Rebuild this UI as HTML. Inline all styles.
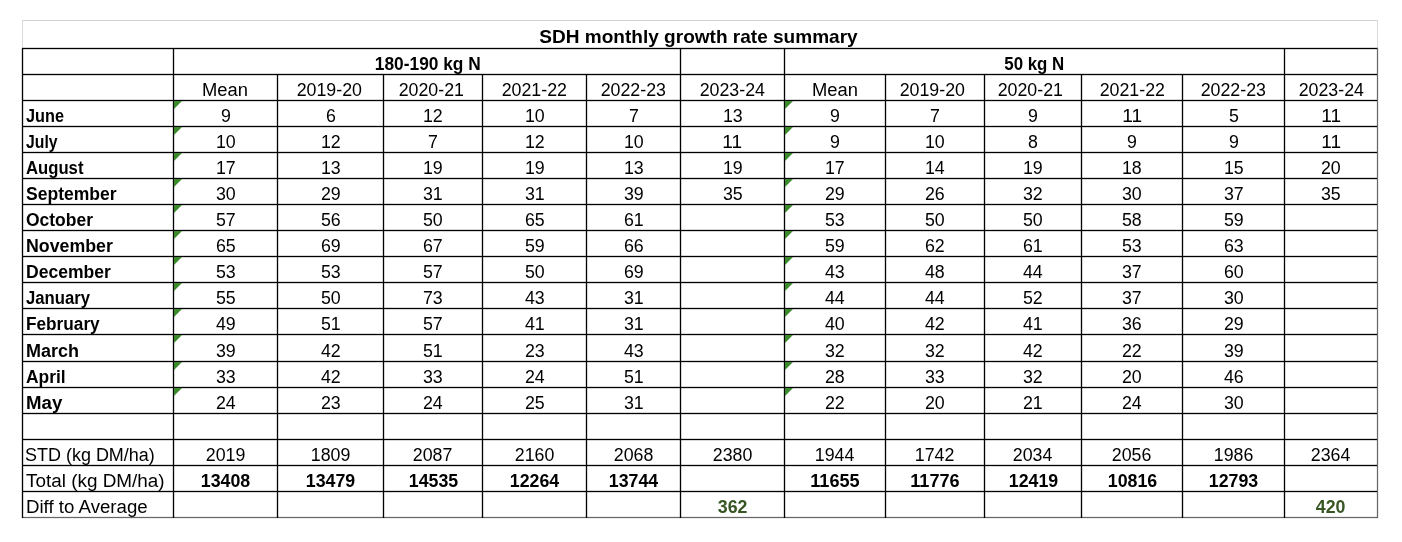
<!DOCTYPE html>
<html><head><meta charset="utf-8"><style>
html,body{margin:0;padding:0;background:#fff;}
body{width:1402px;height:542px;position:relative;overflow:hidden;font-family:"Liberation Sans",Arial,sans-serif;color:#000;}
.h{position:absolute;height:1px;background:#000;box-shadow:0 1px 0 rgba(0,0,0,.16),0 -1px 0 rgba(0,0,0,.16);}
.v{position:absolute;width:1px;background:#000;box-shadow:1px 0 0 rgba(0,0,0,.16),-1px 0 0 rgba(0,0,0,.16);}
.g{background:#d0d0d0;box-shadow:none;}
.t{position:absolute;white-space:nowrap;height:22px;line-height:22px;}
.t span{display:inline-block;}
.c{text-align:center;}
.c span{transform-origin:50% 50%;}
.l span{transform-origin:0 50%;}
.tri{position:absolute;width:0;height:0;border-top:8px solid #3b8a2b;border-right:8px solid transparent;}
</style></head><body>

<div class="h g" style="left:22px;top:20px;width:1356px"></div>
<div class="v g" style="left:22px;top:20px;height:28px;background:#dadada"></div>
<div class="v g" style="left:1377px;top:20px;height:28px;background:#dadada"></div>
<div class="h" style="left:22px;top:48px;width:1356px;"></div>
<div class="h" style="left:22px;top:74px;width:1356px;"></div>
<div class="h" style="left:22px;top:100px;width:1356px;"></div>
<div class="h" style="left:22px;top:126px;width:1356px;"></div>
<div class="h" style="left:22px;top:152px;width:1356px;"></div>
<div class="h" style="left:22px;top:178px;width:1356px;"></div>
<div class="h" style="left:22px;top:204px;width:1356px;"></div>
<div class="h" style="left:22px;top:230px;width:1356px;"></div>
<div class="h" style="left:22px;top:256px;width:1356px;"></div>
<div class="h" style="left:22px;top:282px;width:1356px;"></div>
<div class="h" style="left:22px;top:308px;width:1356px;"></div>
<div class="h" style="left:22px;top:334px;width:1356px;"></div>
<div class="h" style="left:22px;top:361px;width:1356px;"></div>
<div class="h" style="left:22px;top:387px;width:1356px;"></div>
<div class="h" style="left:22px;top:413px;width:1356px;"></div>
<div class="h" style="left:22px;top:439px;width:1356px;"></div>
<div class="h" style="left:22px;top:465px;width:1356px;"></div>
<div class="h" style="left:22px;top:491px;width:1356px;"></div>
<div class="h" style="left:22px;top:517px;width:1356px;background:#666;box-shadow:0 1px 0 rgba(0,0,0,.07),0 -1px 0 rgba(0,0,0,.07);"></div>
<div class="v" style="left:22px;top:48px;height:470px;"></div>
<div class="v" style="left:173px;top:48px;height:470px;"></div>
<div class="v" style="left:277px;top:74px;height:444px;"></div>
<div class="v" style="left:383px;top:74px;height:444px;"></div>
<div class="v" style="left:482px;top:74px;height:444px;"></div>
<div class="v" style="left:586px;top:74px;height:444px;"></div>
<div class="v" style="left:680px;top:48px;height:470px;"></div>
<div class="v" style="left:784px;top:48px;height:470px;"></div>
<div class="v" style="left:885px;top:74px;height:444px;"></div>
<div class="v" style="left:984px;top:74px;height:444px;"></div>
<div class="v" style="left:1081px;top:74px;height:444px;"></div>
<div class="v" style="left:1182px;top:74px;height:444px;"></div>
<div class="v" style="left:1284px;top:48px;height:470px;"></div>
<div class="v" style="left:1377px;top:48px;height:470px;background:#666;box-shadow:1px 0 0 rgba(0,0,0,.07),-1px 0 0 rgba(0,0,0,.07);"></div>
<div class="tri" style="left:174px;top:101px"></div>
<div class="tri" style="left:785px;top:101px"></div>
<div class="tri" style="left:174px;top:127px"></div>
<div class="tri" style="left:785px;top:127px"></div>
<div class="tri" style="left:174px;top:153px"></div>
<div class="tri" style="left:785px;top:153px"></div>
<div class="tri" style="left:174px;top:179px"></div>
<div class="tri" style="left:785px;top:179px"></div>
<div class="tri" style="left:174px;top:205px"></div>
<div class="tri" style="left:785px;top:205px"></div>
<div class="tri" style="left:174px;top:231px"></div>
<div class="tri" style="left:785px;top:231px"></div>
<div class="tri" style="left:174px;top:257px"></div>
<div class="tri" style="left:785px;top:257px"></div>
<div class="tri" style="left:174px;top:283px"></div>
<div class="tri" style="left:785px;top:283px"></div>
<div class="tri" style="left:174px;top:309px"></div>
<div class="tri" style="left:785px;top:309px"></div>
<div class="tri" style="left:174px;top:335px"></div>
<div class="tri" style="left:785px;top:335px"></div>
<div class="tri" style="left:174px;top:362px"></div>
<div class="tri" style="left:785px;top:362px"></div>
<div class="tri" style="left:174px;top:388px"></div>
<div class="tri" style="left:785px;top:388px"></div>
<div class="t c" style="top:26.06px;font-size:18.6px;font-weight:bold;left:21px;width:1354px;"><span style="transform:scaleX(1.0238)">SDH monthly growth rate summary</span></div>
<div class="t c" style="top:52.90px;font-size:17.6px;font-weight:bold;left:174.7px;width:506.00000000000006px;"><span style="transform:scaleX(0.9839)">180-190 kg N</span></div>
<div class="t c" style="top:52.90px;font-size:17.6px;font-weight:bold;left:785px;width:499px;"><span style="transform:scaleX(0.9593)">50 kg N</span></div>
<div class="t c" style="top:78.90px;font-size:17.6px;left:174px;width:103px;"><span style="transform:scaleX(1.0444)">Mean</span></div>
<div class="t c" style="top:78.90px;font-size:17.6px;left:276.5px;width:105.0px;"><span style="transform:scaleX(1.0109)">2019-20</span></div>
<div class="t c" style="top:78.90px;font-size:17.6px;left:382.0px;width:98.0px;"><span style="transform:scaleX(1.0109)">2020-21</span></div>
<div class="t c" style="top:78.90px;font-size:17.6px;left:483px;width:103px;"><span style="transform:scaleX(1.0109)">2021-22</span></div>
<div class="t c" style="top:78.90px;font-size:17.6px;left:587px;width:93px;"><span style="transform:scaleX(1.0109)">2022-23</span></div>
<div class="t c" style="top:78.90px;font-size:17.6px;left:681px;width:103px;"><span style="transform:scaleX(1.0109)">2023-24</span></div>
<div class="t c" style="top:78.90px;font-size:17.6px;left:785px;width:100px;"><span style="transform:scaleX(1.0444)">Mean</span></div>
<div class="t c" style="top:78.90px;font-size:17.6px;left:883.7px;width:98.0px;"><span style="transform:scaleX(1.0109)">2019-20</span></div>
<div class="t c" style="top:78.90px;font-size:17.6px;left:982.4px;width:96.00000000000011px;"><span style="transform:scaleX(1.0109)">2020-21</span></div>
<div class="t c" style="top:78.90px;font-size:17.6px;left:1082px;width:100px;"><span style="transform:scaleX(1.0109)">2021-22</span></div>
<div class="t c" style="top:78.90px;font-size:17.6px;left:1183px;width:101px;"><span style="transform:scaleX(1.0109)">2022-23</span></div>
<div class="t c" style="top:78.90px;font-size:17.6px;left:1285px;width:92px;"><span style="transform:scaleX(1.0109)">2023-24</span></div>
<div class="t l" style="top:104.90px;font-size:17.6px;font-weight:bold;left:26.0px;"><span style="transform:scaleX(0.9238)">June</span></div>
<div class="t c" style="top:104.90px;font-size:17.6px;left:174px;width:103px;"><span style="transform:scaleX(1.0096)">9</span></div>
<div class="t c" style="top:104.90px;font-size:17.6px;left:278px;width:105px;"><span style="transform:scaleX(1.0096)">6</span></div>
<div class="t c" style="top:104.90px;font-size:17.6px;left:384px;width:98px;"><span style="transform:scaleX(1.0104)">12</span></div>
<div class="t c" style="top:104.90px;font-size:17.6px;left:483px;width:103px;"><span style="transform:scaleX(1.0104)">10</span></div>
<div class="t c" style="top:104.90px;font-size:17.6px;left:587px;width:93px;"><span style="transform:scaleX(1.0096)">7</span></div>
<div class="t c" style="top:104.90px;font-size:17.6px;left:681px;width:103px;"><span style="transform:scaleX(1.0104)">13</span></div>
<div class="t c" style="top:104.90px;font-size:17.6px;left:785px;width:100px;"><span style="transform:scaleX(1.0096)">9</span></div>
<div class="t c" style="top:104.90px;font-size:17.6px;left:886px;width:98px;"><span style="transform:scaleX(1.0096)">7</span></div>
<div class="t c" style="top:104.90px;font-size:17.6px;left:985px;width:96px;"><span style="transform:scaleX(1.0096)">9</span></div>
<div class="t c" style="top:104.90px;font-size:17.6px;left:1082px;width:100px;"><span style="transform:scaleX(1.0830)">11</span></div>
<div class="t c" style="top:104.90px;font-size:17.6px;left:1183px;width:101px;"><span style="transform:scaleX(1.0096)">5</span></div>
<div class="t c" style="top:104.90px;font-size:17.6px;left:1285px;width:92px;"><span style="transform:scaleX(1.0830)">11</span></div>
<div class="t l" style="top:130.90px;font-size:17.6px;font-weight:bold;left:26.0px;"><span style="transform:scaleX(0.8965)">July</span></div>
<div class="t c" style="top:130.90px;font-size:17.6px;left:174px;width:103px;"><span style="transform:scaleX(1.0104)">10</span></div>
<div class="t c" style="top:130.90px;font-size:17.6px;left:278px;width:105px;"><span style="transform:scaleX(1.0104)">12</span></div>
<div class="t c" style="top:130.90px;font-size:17.6px;left:384px;width:98px;"><span style="transform:scaleX(1.0096)">7</span></div>
<div class="t c" style="top:130.90px;font-size:17.6px;left:483px;width:103px;"><span style="transform:scaleX(1.0104)">12</span></div>
<div class="t c" style="top:130.90px;font-size:17.6px;left:587px;width:93px;"><span style="transform:scaleX(1.0104)">10</span></div>
<div class="t c" style="top:130.90px;font-size:17.6px;left:681px;width:103px;"><span style="transform:scaleX(1.0830)">11</span></div>
<div class="t c" style="top:130.90px;font-size:17.6px;left:785px;width:100px;"><span style="transform:scaleX(1.0096)">9</span></div>
<div class="t c" style="top:130.90px;font-size:17.6px;left:886px;width:98px;"><span style="transform:scaleX(1.0104)">10</span></div>
<div class="t c" style="top:130.90px;font-size:17.6px;left:985px;width:96px;"><span style="transform:scaleX(1.0096)">8</span></div>
<div class="t c" style="top:130.90px;font-size:17.6px;left:1082px;width:100px;"><span style="transform:scaleX(1.0096)">9</span></div>
<div class="t c" style="top:130.90px;font-size:17.6px;left:1183px;width:101px;"><span style="transform:scaleX(1.0096)">9</span></div>
<div class="t c" style="top:130.90px;font-size:17.6px;left:1285px;width:92px;"><span style="transform:scaleX(1.0830)">11</span></div>
<div class="t l" style="top:156.90px;font-size:17.6px;font-weight:bold;left:26.0px;"><span style="transform:scaleX(0.9479)">August</span></div>
<div class="t c" style="top:156.90px;font-size:17.6px;left:174px;width:103px;"><span style="transform:scaleX(1.0104)">17</span></div>
<div class="t c" style="top:156.90px;font-size:17.6px;left:278px;width:105px;"><span style="transform:scaleX(1.0104)">13</span></div>
<div class="t c" style="top:156.90px;font-size:17.6px;left:384px;width:98px;"><span style="transform:scaleX(1.0104)">19</span></div>
<div class="t c" style="top:156.90px;font-size:17.6px;left:483px;width:103px;"><span style="transform:scaleX(1.0104)">19</span></div>
<div class="t c" style="top:156.90px;font-size:17.6px;left:587px;width:93px;"><span style="transform:scaleX(1.0104)">13</span></div>
<div class="t c" style="top:156.90px;font-size:17.6px;left:681px;width:103px;"><span style="transform:scaleX(1.0104)">19</span></div>
<div class="t c" style="top:156.90px;font-size:17.6px;left:785px;width:100px;"><span style="transform:scaleX(1.0104)">17</span></div>
<div class="t c" style="top:156.90px;font-size:17.6px;left:886px;width:98px;"><span style="transform:scaleX(1.0104)">14</span></div>
<div class="t c" style="top:156.90px;font-size:17.6px;left:985px;width:96px;"><span style="transform:scaleX(1.0104)">19</span></div>
<div class="t c" style="top:156.90px;font-size:17.6px;left:1082px;width:100px;"><span style="transform:scaleX(1.0104)">18</span></div>
<div class="t c" style="top:156.90px;font-size:17.6px;left:1183px;width:101px;"><span style="transform:scaleX(1.0104)">15</span></div>
<div class="t c" style="top:156.90px;font-size:17.6px;left:1285px;width:92px;"><span style="transform:scaleX(1.0104)">20</span></div>
<div class="t l" style="top:182.90px;font-size:17.6px;font-weight:bold;left:26.0px;"><span style="transform:scaleX(0.9965)">September</span></div>
<div class="t c" style="top:182.90px;font-size:17.6px;left:174px;width:103px;"><span style="transform:scaleX(1.0104)">30</span></div>
<div class="t c" style="top:182.90px;font-size:17.6px;left:278px;width:105px;"><span style="transform:scaleX(1.0104)">29</span></div>
<div class="t c" style="top:182.90px;font-size:17.6px;left:384px;width:98px;"><span style="transform:scaleX(1.0104)">31</span></div>
<div class="t c" style="top:182.90px;font-size:17.6px;left:483px;width:103px;"><span style="transform:scaleX(1.0104)">31</span></div>
<div class="t c" style="top:182.90px;font-size:17.6px;left:587px;width:93px;"><span style="transform:scaleX(1.0104)">39</span></div>
<div class="t c" style="top:182.90px;font-size:17.6px;left:681px;width:103px;"><span style="transform:scaleX(1.0104)">35</span></div>
<div class="t c" style="top:182.90px;font-size:17.6px;left:785px;width:100px;"><span style="transform:scaleX(1.0104)">29</span></div>
<div class="t c" style="top:182.90px;font-size:17.6px;left:886px;width:98px;"><span style="transform:scaleX(1.0104)">26</span></div>
<div class="t c" style="top:182.90px;font-size:17.6px;left:985px;width:96px;"><span style="transform:scaleX(1.0104)">32</span></div>
<div class="t c" style="top:182.90px;font-size:17.6px;left:1082px;width:100px;"><span style="transform:scaleX(1.0104)">30</span></div>
<div class="t c" style="top:182.90px;font-size:17.6px;left:1183px;width:101px;"><span style="transform:scaleX(1.0104)">37</span></div>
<div class="t c" style="top:182.90px;font-size:17.6px;left:1285px;width:92px;"><span style="transform:scaleX(1.0104)">35</span></div>
<div class="t l" style="top:208.90px;font-size:17.6px;font-weight:bold;left:26.0px;"><span style="transform:scaleX(0.9921)">October</span></div>
<div class="t c" style="top:208.90px;font-size:17.6px;left:174px;width:103px;"><span style="transform:scaleX(1.0104)">57</span></div>
<div class="t c" style="top:208.90px;font-size:17.6px;left:278px;width:105px;"><span style="transform:scaleX(1.0104)">56</span></div>
<div class="t c" style="top:208.90px;font-size:17.6px;left:384px;width:98px;"><span style="transform:scaleX(1.0104)">50</span></div>
<div class="t c" style="top:208.90px;font-size:17.6px;left:483px;width:103px;"><span style="transform:scaleX(1.0104)">65</span></div>
<div class="t c" style="top:208.90px;font-size:17.6px;left:587px;width:93px;"><span style="transform:scaleX(1.0104)">61</span></div>
<div class="t c" style="top:208.90px;font-size:17.6px;left:785px;width:100px;"><span style="transform:scaleX(1.0104)">53</span></div>
<div class="t c" style="top:208.90px;font-size:17.6px;left:886px;width:98px;"><span style="transform:scaleX(1.0104)">50</span></div>
<div class="t c" style="top:208.90px;font-size:17.6px;left:985px;width:96px;"><span style="transform:scaleX(1.0104)">50</span></div>
<div class="t c" style="top:208.90px;font-size:17.6px;left:1082px;width:100px;"><span style="transform:scaleX(1.0104)">58</span></div>
<div class="t c" style="top:208.90px;font-size:17.6px;left:1183px;width:101px;"><span style="transform:scaleX(1.0104)">59</span></div>
<div class="t l" style="top:234.90px;font-size:17.6px;font-weight:bold;left:26.0px;"><span style="transform:scaleX(1.0102)">November</span></div>
<div class="t c" style="top:234.90px;font-size:17.6px;left:174px;width:103px;"><span style="transform:scaleX(1.0104)">65</span></div>
<div class="t c" style="top:234.90px;font-size:17.6px;left:278px;width:105px;"><span style="transform:scaleX(1.0104)">69</span></div>
<div class="t c" style="top:234.90px;font-size:17.6px;left:384px;width:98px;"><span style="transform:scaleX(1.0104)">67</span></div>
<div class="t c" style="top:234.90px;font-size:17.6px;left:483px;width:103px;"><span style="transform:scaleX(1.0104)">59</span></div>
<div class="t c" style="top:234.90px;font-size:17.6px;left:587px;width:93px;"><span style="transform:scaleX(1.0104)">66</span></div>
<div class="t c" style="top:234.90px;font-size:17.6px;left:785px;width:100px;"><span style="transform:scaleX(1.0104)">59</span></div>
<div class="t c" style="top:234.90px;font-size:17.6px;left:886px;width:98px;"><span style="transform:scaleX(1.0104)">62</span></div>
<div class="t c" style="top:234.90px;font-size:17.6px;left:985px;width:96px;"><span style="transform:scaleX(1.0104)">61</span></div>
<div class="t c" style="top:234.90px;font-size:17.6px;left:1082px;width:100px;"><span style="transform:scaleX(1.0104)">53</span></div>
<div class="t c" style="top:234.90px;font-size:17.6px;left:1183px;width:101px;"><span style="transform:scaleX(1.0104)">63</span></div>
<div class="t l" style="top:260.90px;font-size:17.6px;font-weight:bold;left:26.0px;"><span style="transform:scaleX(0.9970)">December</span></div>
<div class="t c" style="top:260.90px;font-size:17.6px;left:174px;width:103px;"><span style="transform:scaleX(1.0104)">53</span></div>
<div class="t c" style="top:260.90px;font-size:17.6px;left:278px;width:105px;"><span style="transform:scaleX(1.0104)">53</span></div>
<div class="t c" style="top:260.90px;font-size:17.6px;left:384px;width:98px;"><span style="transform:scaleX(1.0104)">57</span></div>
<div class="t c" style="top:260.90px;font-size:17.6px;left:483px;width:103px;"><span style="transform:scaleX(1.0104)">50</span></div>
<div class="t c" style="top:260.90px;font-size:17.6px;left:587px;width:93px;"><span style="transform:scaleX(1.0104)">69</span></div>
<div class="t c" style="top:260.90px;font-size:17.6px;left:785px;width:100px;"><span style="transform:scaleX(1.0104)">43</span></div>
<div class="t c" style="top:260.90px;font-size:17.6px;left:886px;width:98px;"><span style="transform:scaleX(1.0104)">48</span></div>
<div class="t c" style="top:260.90px;font-size:17.6px;left:985px;width:96px;"><span style="transform:scaleX(1.0104)">44</span></div>
<div class="t c" style="top:260.90px;font-size:17.6px;left:1082px;width:100px;"><span style="transform:scaleX(1.0104)">37</span></div>
<div class="t c" style="top:260.90px;font-size:17.6px;left:1183px;width:101px;"><span style="transform:scaleX(1.0104)">60</span></div>
<div class="t l" style="top:286.90px;font-size:17.6px;font-weight:bold;left:26.0px;"><span style="transform:scaleX(0.9506)">January</span></div>
<div class="t c" style="top:286.90px;font-size:17.6px;left:174px;width:103px;"><span style="transform:scaleX(1.0104)">55</span></div>
<div class="t c" style="top:286.90px;font-size:17.6px;left:278px;width:105px;"><span style="transform:scaleX(1.0104)">50</span></div>
<div class="t c" style="top:286.90px;font-size:17.6px;left:384px;width:98px;"><span style="transform:scaleX(1.0104)">73</span></div>
<div class="t c" style="top:286.90px;font-size:17.6px;left:483px;width:103px;"><span style="transform:scaleX(1.0104)">43</span></div>
<div class="t c" style="top:286.90px;font-size:17.6px;left:587px;width:93px;"><span style="transform:scaleX(1.0104)">31</span></div>
<div class="t c" style="top:286.90px;font-size:17.6px;left:785px;width:100px;"><span style="transform:scaleX(1.0104)">44</span></div>
<div class="t c" style="top:286.90px;font-size:17.6px;left:886px;width:98px;"><span style="transform:scaleX(1.0104)">44</span></div>
<div class="t c" style="top:286.90px;font-size:17.6px;left:985px;width:96px;"><span style="transform:scaleX(1.0104)">52</span></div>
<div class="t c" style="top:286.90px;font-size:17.6px;left:1082px;width:100px;"><span style="transform:scaleX(1.0104)">37</span></div>
<div class="t c" style="top:286.90px;font-size:17.6px;left:1183px;width:101px;"><span style="transform:scaleX(1.0104)">30</span></div>
<div class="t l" style="top:312.90px;font-size:17.6px;font-weight:bold;left:26.0px;"><span style="transform:scaleX(0.9785)">February</span></div>
<div class="t c" style="top:312.90px;font-size:17.6px;left:174px;width:103px;"><span style="transform:scaleX(1.0104)">49</span></div>
<div class="t c" style="top:312.90px;font-size:17.6px;left:278px;width:105px;"><span style="transform:scaleX(1.0104)">51</span></div>
<div class="t c" style="top:312.90px;font-size:17.6px;left:384px;width:98px;"><span style="transform:scaleX(1.0104)">57</span></div>
<div class="t c" style="top:312.90px;font-size:17.6px;left:483px;width:103px;"><span style="transform:scaleX(1.0104)">41</span></div>
<div class="t c" style="top:312.90px;font-size:17.6px;left:587px;width:93px;"><span style="transform:scaleX(1.0104)">31</span></div>
<div class="t c" style="top:312.90px;font-size:17.6px;left:785px;width:100px;"><span style="transform:scaleX(1.0104)">40</span></div>
<div class="t c" style="top:312.90px;font-size:17.6px;left:886px;width:98px;"><span style="transform:scaleX(1.0104)">42</span></div>
<div class="t c" style="top:312.90px;font-size:17.6px;left:985px;width:96px;"><span style="transform:scaleX(1.0104)">41</span></div>
<div class="t c" style="top:312.90px;font-size:17.6px;left:1082px;width:100px;"><span style="transform:scaleX(1.0104)">36</span></div>
<div class="t c" style="top:312.90px;font-size:17.6px;left:1183px;width:101px;"><span style="transform:scaleX(1.0104)">29</span></div>
<div class="t l" style="top:339.90px;font-size:17.6px;font-weight:bold;left:26.0px;"><span style="transform:scaleX(1.0225)">March</span></div>
<div class="t c" style="top:339.90px;font-size:17.6px;left:174px;width:103px;"><span style="transform:scaleX(1.0104)">39</span></div>
<div class="t c" style="top:339.90px;font-size:17.6px;left:278px;width:105px;"><span style="transform:scaleX(1.0104)">42</span></div>
<div class="t c" style="top:339.90px;font-size:17.6px;left:384px;width:98px;"><span style="transform:scaleX(1.0104)">51</span></div>
<div class="t c" style="top:339.90px;font-size:17.6px;left:483px;width:103px;"><span style="transform:scaleX(1.0104)">23</span></div>
<div class="t c" style="top:339.90px;font-size:17.6px;left:587px;width:93px;"><span style="transform:scaleX(1.0104)">43</span></div>
<div class="t c" style="top:339.90px;font-size:17.6px;left:785px;width:100px;"><span style="transform:scaleX(1.0104)">32</span></div>
<div class="t c" style="top:339.90px;font-size:17.6px;left:886px;width:98px;"><span style="transform:scaleX(1.0104)">32</span></div>
<div class="t c" style="top:339.90px;font-size:17.6px;left:985px;width:96px;"><span style="transform:scaleX(1.0104)">42</span></div>
<div class="t c" style="top:339.90px;font-size:17.6px;left:1082px;width:100px;"><span style="transform:scaleX(1.0104)">22</span></div>
<div class="t c" style="top:339.90px;font-size:17.6px;left:1183px;width:101px;"><span style="transform:scaleX(1.0104)">39</span></div>
<div class="t l" style="top:365.90px;font-size:17.6px;font-weight:bold;left:26.0px;"><span style="transform:scaleX(0.9874)">April</span></div>
<div class="t c" style="top:365.90px;font-size:17.6px;left:174px;width:103px;"><span style="transform:scaleX(1.0104)">33</span></div>
<div class="t c" style="top:365.90px;font-size:17.6px;left:278px;width:105px;"><span style="transform:scaleX(1.0104)">42</span></div>
<div class="t c" style="top:365.90px;font-size:17.6px;left:384px;width:98px;"><span style="transform:scaleX(1.0104)">33</span></div>
<div class="t c" style="top:365.90px;font-size:17.6px;left:483px;width:103px;"><span style="transform:scaleX(1.0104)">24</span></div>
<div class="t c" style="top:365.90px;font-size:17.6px;left:587px;width:93px;"><span style="transform:scaleX(1.0104)">51</span></div>
<div class="t c" style="top:365.90px;font-size:17.6px;left:785px;width:100px;"><span style="transform:scaleX(1.0104)">28</span></div>
<div class="t c" style="top:365.90px;font-size:17.6px;left:886px;width:98px;"><span style="transform:scaleX(1.0104)">33</span></div>
<div class="t c" style="top:365.90px;font-size:17.6px;left:985px;width:96px;"><span style="transform:scaleX(1.0104)">32</span></div>
<div class="t c" style="top:365.90px;font-size:17.6px;left:1082px;width:100px;"><span style="transform:scaleX(1.0104)">20</span></div>
<div class="t c" style="top:365.90px;font-size:17.6px;left:1183px;width:101px;"><span style="transform:scaleX(1.0104)">46</span></div>
<div class="t l" style="top:391.90px;font-size:17.6px;font-weight:bold;left:26.0px;"><span style="transform:scaleX(1.0596)">May</span></div>
<div class="t c" style="top:391.90px;font-size:17.6px;left:174px;width:103px;"><span style="transform:scaleX(1.0104)">24</span></div>
<div class="t c" style="top:391.90px;font-size:17.6px;left:278px;width:105px;"><span style="transform:scaleX(1.0104)">23</span></div>
<div class="t c" style="top:391.90px;font-size:17.6px;left:384px;width:98px;"><span style="transform:scaleX(1.0104)">24</span></div>
<div class="t c" style="top:391.90px;font-size:17.6px;left:483px;width:103px;"><span style="transform:scaleX(1.0104)">25</span></div>
<div class="t c" style="top:391.90px;font-size:17.6px;left:587px;width:93px;"><span style="transform:scaleX(1.0104)">31</span></div>
<div class="t c" style="top:391.90px;font-size:17.6px;left:785px;width:100px;"><span style="transform:scaleX(1.0104)">22</span></div>
<div class="t c" style="top:391.90px;font-size:17.6px;left:886px;width:98px;"><span style="transform:scaleX(1.0104)">20</span></div>
<div class="t c" style="top:391.90px;font-size:17.6px;left:985px;width:96px;"><span style="transform:scaleX(1.0104)">21</span></div>
<div class="t c" style="top:391.90px;font-size:17.6px;left:1082px;width:100px;"><span style="transform:scaleX(1.0104)">24</span></div>
<div class="t c" style="top:391.90px;font-size:17.6px;left:1183px;width:101px;"><span style="transform:scaleX(1.0104)">30</span></div>
<div class="t l" style="top:443.90px;font-size:17.6px;left:25.2px;"><span style="transform:scaleX(1.0213)">STD (kg DM/ha)</span></div>
<div class="t c" style="top:443.90px;font-size:17.6px;left:174px;width:103px;"><span style="transform:scaleX(1.0104)">2019</span></div>
<div class="t c" style="top:443.90px;font-size:17.6px;left:278px;width:105px;"><span style="transform:scaleX(1.0104)">1809</span></div>
<div class="t c" style="top:443.90px;font-size:17.6px;left:384px;width:98px;"><span style="transform:scaleX(1.0104)">2087</span></div>
<div class="t c" style="top:443.90px;font-size:17.6px;left:483px;width:103px;"><span style="transform:scaleX(1.0104)">2160</span></div>
<div class="t c" style="top:443.90px;font-size:17.6px;left:587px;width:93px;"><span style="transform:scaleX(1.0104)">2068</span></div>
<div class="t c" style="top:443.90px;font-size:17.6px;left:681px;width:103px;"><span style="transform:scaleX(1.0104)">2380</span></div>
<div class="t c" style="top:443.90px;font-size:17.6px;left:785px;width:100px;"><span style="transform:scaleX(1.0104)">1944</span></div>
<div class="t c" style="top:443.90px;font-size:17.6px;left:886px;width:98px;"><span style="transform:scaleX(1.0104)">1742</span></div>
<div class="t c" style="top:443.90px;font-size:17.6px;left:985px;width:96px;"><span style="transform:scaleX(1.0104)">2034</span></div>
<div class="t c" style="top:443.90px;font-size:17.6px;left:1082px;width:100px;"><span style="transform:scaleX(1.0104)">2056</span></div>
<div class="t c" style="top:443.90px;font-size:17.6px;left:1183px;width:101px;"><span style="transform:scaleX(1.0104)">1986</span></div>
<div class="t c" style="top:443.90px;font-size:17.6px;left:1285px;width:92px;"><span style="transform:scaleX(1.0104)">2364</span></div>
<div class="t l" style="top:469.90px;font-size:17.6px;left:26.4px;"><span style="transform:scaleX(1.0740)">Total (kg DM/ha)</span></div>
<div class="t c" style="top:469.90px;font-size:17.6px;font-weight:bold;left:174px;width:103px;"><span style="transform:scaleX(1.0099)">13408</span></div>
<div class="t c" style="top:469.90px;font-size:17.6px;font-weight:bold;left:278px;width:105px;"><span style="transform:scaleX(1.0099)">13479</span></div>
<div class="t c" style="top:469.90px;font-size:17.6px;font-weight:bold;left:384px;width:98px;"><span style="transform:scaleX(1.0099)">14535</span></div>
<div class="t c" style="top:469.90px;font-size:17.6px;font-weight:bold;left:483px;width:103px;"><span style="transform:scaleX(1.0099)">12264</span></div>
<div class="t c" style="top:469.90px;font-size:17.6px;font-weight:bold;left:587px;width:93px;"><span style="transform:scaleX(1.0099)">13744</span></div>
<div class="t c" style="top:469.90px;font-size:17.6px;font-weight:bold;left:785px;width:100px;"><span style="transform:scaleX(1.0306)">11655</span></div>
<div class="t c" style="top:469.90px;font-size:17.6px;font-weight:bold;left:886px;width:98px;"><span style="transform:scaleX(1.0306)">11776</span></div>
<div class="t c" style="top:469.90px;font-size:17.6px;font-weight:bold;left:985px;width:96px;"><span style="transform:scaleX(1.0099)">12419</span></div>
<div class="t c" style="top:469.90px;font-size:17.6px;font-weight:bold;left:1082px;width:100px;"><span style="transform:scaleX(1.0099)">10816</span></div>
<div class="t c" style="top:469.90px;font-size:17.6px;font-weight:bold;left:1183px;width:101px;"><span style="transform:scaleX(1.0099)">12793</span></div>
<div class="t l" style="top:495.90px;font-size:17.6px;left:26.2px;"><span style="transform:scaleX(1.0602)">Diff to Average</span></div>
<div class="t c" style="top:495.90px;font-size:17.6px;font-weight:bold;color:#375623;left:681px;width:103px;"><span style="transform:scaleX(1.0101)">362</span></div>
<div class="t c" style="top:495.90px;font-size:17.6px;font-weight:bold;color:#375623;left:1285px;width:92px;"><span style="transform:scaleX(1.0101)">420</span></div>
</body></html>
